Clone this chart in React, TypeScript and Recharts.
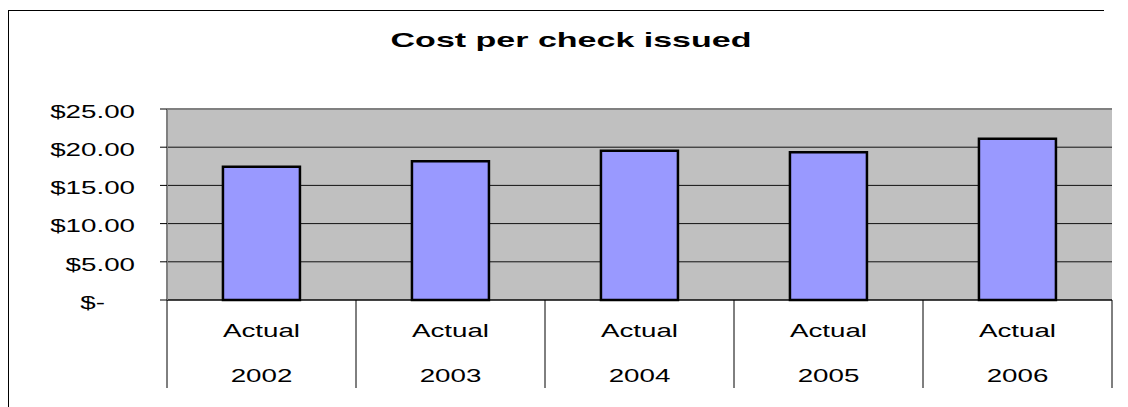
import React from "react";
import {
  BarChart,
  Bar,
  XAxis,
  YAxis,
  CartesianGrid,
  ReferenceLine,
} from "recharts";

const years = ["2002", "2003", "2004", "2005", "2006"];
const scenario = ["Actual", "Actual", "Actual", "Actual", "Actual"];
const costPerCheck = [17.45, 18.15, 19.55, 19.35, 21.1];
const yTicks = [0, 5, 10, 15, 20, 25];
const title = "Cost per check issued";

const data = years.map((y, i) => ({ year: y, scenario: scenario[i], cost: costPerCheck[i] }));

const FONT = "'Liberation Sans', Arial, sans-serif";
const SX = 1.46;

const fmtMoney = (v: number) => (v === 0 ? "$-" : `$${v.toFixed(2)}`);

const YTick = (props: any) => {
  const { x, y, payload } = props;
  const v = payload.value as number;
  const shift = v === 0 ? -30 : 0;
  return (
    <text
      transform={`translate(${x + shift},${y + 2}) scale(${SX},1)`}
      textAnchor="end"
      dy="0.36em"
      fontSize={19}
      fontFamily={FONT}
      fill="#000"
    >
      {fmtMoney(v)}
    </text>
  );
};

const XTick = (props: any) => {
  const { x, y, payload, index, width, visibleTicksCount } = props;
  const half =
    payload && payload.offset > 0 ? payload.offset : width / (visibleTicksCount || years.length) / 2;
  const isLast = index === (visibleTicksCount || years.length) - 1;
  return (
    <g>
      <line x1={x - half} x2={x - half} y1={y} y2={y + 88} stroke="#000" strokeWidth={1} />
      {isLast && (
        <line x1={x + half} x2={x + half} y1={y} y2={y + 88} stroke="#000" strokeWidth={1} />
      )}
      <text
        transform={`translate(${x},${y + 37}) scale(${SX},1)`}
        textAnchor="middle"
        fontSize={19}
        fontFamily={FONT}
        fill="#000"
      >
        {scenario[index]}
      </text>
      <text
        transform={`translate(${x},${y + 82}) scale(${SX},1)`}
        textAnchor="middle"
        fontSize={19}
        fontFamily={FONT}
        fill="#000"
      >
        {payload.value}
      </text>
    </g>
  );
};

export default function App() {
  return (
    <div style={{ position: "relative", width: 1120, height: 399, overflow: "hidden" }}>
      <style>{`html,body{overflow:hidden} svg{outline:none}`}</style>
      <BarChart
        width={1120}
        height={399}
        data={data}
        margin={{ top: 101, right: 16, bottom: 0, left: 0 }}
        barCategoryGap="29.6%"
        style={{ outline: "none" }}
      >
        <CartesianGrid
          yAxisId="left"
          vertical={false}
          fill="#C0C0C0"
          fillOpacity={1}
          stroke="#111"
          strokeWidth={1}
        />
        <XAxis
          dataKey="year"
          height={107}
          interval={0}
          tickLine={false}
          tickSize={0}
          tickMargin={0}
          axisLine={{ stroke: "#000", strokeWidth: 1 }}
          tick={<XTick />}
        />
        <YAxis
          yAxisId="left"
          width={159}
          domain={[0, 25]}
          ticks={yTicks}
          interval={0}
          tickSize={7}
          tickMargin={25}
          tickLine={{ stroke: "#000", strokeWidth: 1 }}
          axisLine={{ stroke: "#808080", strokeWidth: 2 }}
          tick={<YTick />}
        />
        <YAxis
          yAxisId="right"
          orientation="right"
          width={0}
          domain={[0, 25]}
          ticks={yTicks}
          tick={false}
          tickLine={false}
          axisLine={{ stroke: "#808080", strokeWidth: 2 }}
        />
        <ReferenceLine yAxisId="left" y={25} stroke="#808080" strokeWidth={2} />
        <Bar
          yAxisId="left"
          dataKey="cost"
          fill="#9999FF"
          stroke="#000"
          strokeWidth={2.5}
          isAnimationActive={false}
        />
      </BarChart>
      <svg
        width={1120}
        height={399}
        style={{ position: "absolute", left: 0, top: 0, pointerEvents: "none" }}
      >
        <line x1={0} x2={1096} y1={2.5} y2={2.5} stroke="#000" strokeWidth={1} />
        <line x1={0.5} x2={0.5} y1={2} y2={399} stroke="#000" strokeWidth={1} />
        <text
          transform={`translate(563,39) scale(1.62,1)`}
          textAnchor="middle"
          fontSize={21}
          fontWeight="bold"
          fontFamily={FONT}
          fill="#000"
        >
          {title}
        </text>
      </svg>
    </div>
  );
}
